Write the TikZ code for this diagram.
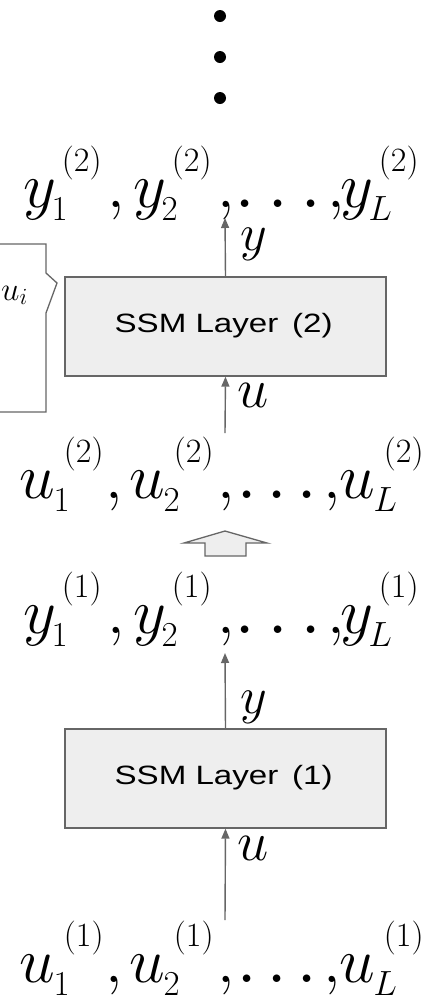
\RequirePackage{fix-cm}
\documentclass[tikz,border=0pt]{standalone}
\usepackage{fontspec}
\newfontfamily\layerfont{Liberation Sans}
\usetikzlibrary{arrows.meta}
\definecolor{linegray}{HTML}{666666}
\definecolor{boxfill}{HTML}{EEEEEE}
% pieces of the sequences
\newcommand\seqbig[1]{{\fontsize{64}{64}\selectfont$#1$}}
\newcommand\seqdot{{\fontsize{78}{78}\selectfont$.$}}
\newcommand\seqlo[1]{\raisebox{-13pt}{\fontsize{35}{35}\selectfont$#1$}}
\newcommand\seqhi[1]{\raisebox{35.5pt}{\fontsize{34}{34}\selectfont$#1$}}
\newcommand\seqat[2]{\rlap{\kern\dimexpr#1\relax#2}}
\newcommand\yterm[3]{\seqat{#1}{\seqbig{y}}\seqat{#1+28.5pt}{\seqlo{#2}}\seqat{#1+38.7pt}{\seqhi{(#3)}}}
\newcommand\uterm[3]{\seqat{#1}{\seqbig{u}}\seqat{#1+34.5pt}{\seqlo{#2}}\seqat{#1+44.7pt}{\seqhi{(#3)}}}
\newcommand\yseqline[1]{\hbox to 430pt{\yterm{23pt}{1}{#1}\seqat{107pt}{\seqbig{,}}\yterm{133pt}{2}{#1}\seqat{217pt}{\seqbig{,}}\seqat{234pt}{\seqdot}\seqat{267pt}{\seqdot}\seqat{300pt}{\seqdot}\seqat{327pt}{\seqbig{,}}\yterm{340pt}{L}{#1}\hfil}}
\newcommand\useqline[1]{\hbox to 430pt{\uterm{19pt}{1}{#1}\seqat{105pt}{\seqbig{,}}\uterm{129pt}{2}{#1}\seqat{217pt}{\seqbig{,}}\seqat{236pt}{\seqdot}\seqat{266pt}{\seqdot}\seqat{296pt}{\seqdot}\seqat{323pt}{\seqbig{,}}\uterm{339pt}{L}{#1}\hfil}}
\newcommand\layertext[1]{\scalebox{1.25}[1]{\layerfont\fontsize{26.5}{30}\selectfont SSM Layer\kern11pt(#1)\kern3pt}}
\begin{document}
\begin{tikzpicture}[x=1pt,y=-1pt,
  layerbox/.style={draw=linegray, fill=boxfill, line width=1.3pt, rectangle,
    minimum width=321pt, minimum height=99pt, inner sep=0pt,
    text height=11pt, text depth=0pt},
  conn/.style={draw=linegray, line width=1.4pt, -{Triangle[length=10pt,width=8pt]}},
  seqtext/.style={inner sep=0pt, anchor=base west},
  ylbl/.style={inner sep=0pt, anchor=base west, font=\fontsize{52}{54}\selectfont},
  ulbl/.style={inner sep=0pt, anchor=base west, font=\fontsize{56}{58}\selectfont},
  dotnode/.style={circle, fill=black, inner sep=0pt, minimum size=12pt},
  callout/.style={draw=linegray, fill=white, line width=1.3pt}]
\useasboundingbox (0,0) rectangle (436,1002);
\clip (0,0) rectangle (436,1002);
% dots
\node[dotnode] (d1) at (220,16) {};
\node[dotnode] (d2) at (220,57) {};
\node[dotnode] (d3) at (220,98) {};
% sequences
\node[seqtext] (y2) at (0,207) {\yseqline{2}};
\node[seqtext] (u2) at (0,498) {\useqline{2}};
\node[seqtext] (y1) at (0,633) {\yseqline{1}};
\node[seqtext] (u1) at (0,982) {\useqline{1}};
% layers
\node[layerbox] (b2) at (225.5,326.5) {\layertext{2}};
\node[layerbox] (b1) at (225.5,778.5) {\layertext{1}};
% callout on the left
\draw[callout] (-10,244) -- (46,244) -- (46,273) -- (57,283) -- (46,313) -- (46,412) -- (-10,412);
\node[inner sep=0pt, anchor=base east, font=\fontsize{33}{35}\selectfont] (ui) at (28,300) {$u_i$};
% connector end points
\coordinate (t2) at (225,218);
\coordinate (s2) at (225,433);
\coordinate (t1) at (225,653);
\coordinate (s1) at (225,920);
\draw[conn] (b2.north) -- (t2);
\draw[conn] (s2) -- (b2.south);
\draw[conn] (b1.north) -- (t1);
\draw[conn] (s1) -- (b1.south);
% labels
\node[ylbl] (ly2) at (240,250) {$y$};
\node[ulbl] (lu2) at (237,407) {$u$};
\node[ylbl] (ly1) at (240,713) {$y$};
\node[ulbl] (lu1) at (237,860) {$u$};
% block arrow between layers
\draw[draw=linegray, fill=boxfill, line width=1.3pt] (184,543) -- (225,531) -- (267,543) -- (246,543) -- (246,556) -- (205,556) -- (205,543) -- cycle;
\end{tikzpicture}
\end{document}
